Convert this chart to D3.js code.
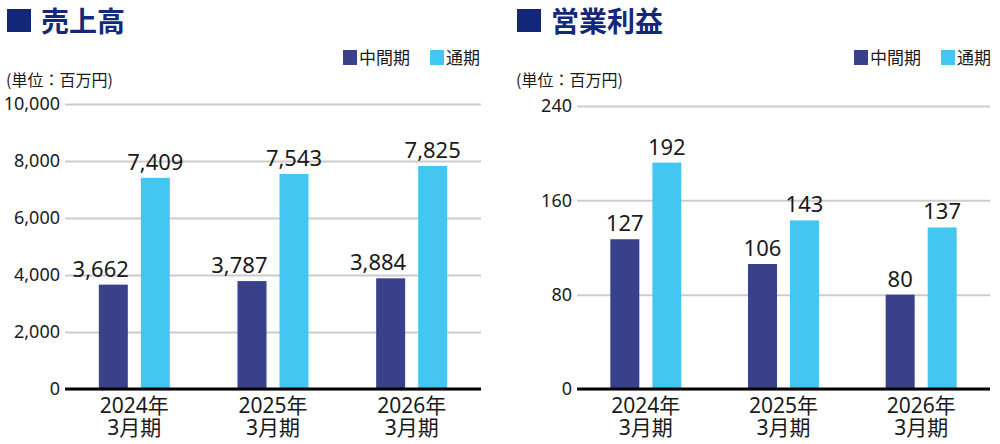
<!DOCTYPE html>
<html lang="ja">
<head>
<meta charset="utf-8">
<script src="https://cdn.jsdelivr.net/npm/d3@7"></script>
<style>
  body { margin: 0; background: #fff; }
  svg text { font-family: "Noto Sans", "Noto Sans CJK JP", sans-serif; fill: #1a1a1a; }
</style>
</head>
<body>
<div id="chart"></div>
<script>
// data
const categories = ['2024年\n3月期', '2025年\n3月期', '2026年\n3月期'];
const seriesNames = ['中間期', '通期'];
const salesInterim = [3662, 3787, 3884];
const salesFull = [7409, 7543, 7825];
const salesTicks = [0, 2000, 4000, 6000, 8000, 10000];
const profitInterim = [127, 106, 80];
const profitFull = [192, 143, 137];
const profitTicks = [0, 80, 160, 240];

const colors = ['#38418a', '#44c6f2'];
const titleColor = '#14287a';

const svg = d3.select('#chart')
  .append('svg')
  .attr('width', 1000)
  .attr('height', 444);

function drawChart(opt) {
  const g = svg.append('g');
  const top = opt.top, bottom = 389;

  // title with square marker
  g.append('rect')
    .attr('x', opt.left0 + 7).attr('y', 9)
    .attr('width', 24).attr('height', 23)
    .attr('fill', titleColor);
  g.append('text')
    .attr('x', opt.left0 + 41).attr('y', 32)
    .style('font-family', '"Noto Sans CJK JP", sans-serif')
    .style('font-size', '28px')
    .style('font-weight', 'bold')
    .style('fill', titleColor)
    .text(opt.title);

  // legend
  const legend = g.append('g');
  seriesNames.forEach((name, i) => {
    const lx = opt.legendX[i];
    legend.append('rect')
      .attr('x', lx).attr('y', 50)
      .attr('width', 14).attr('height', 15)
      .attr('fill', colors[i]);
    legend.append('text')
      .attr('x', lx + 16).attr('y', 64)
      .style('font-family', '"Noto Sans CJK JP", sans-serif')
      .style('font-size', '17px')
      .text(name);
  });

  // unit
  g.append('text')
    .attr('x', opt.left0 + 6).attr('y', 86)
    .style('font-family', '"Noto Sans CJK JP", sans-serif')
    .style('font-size', '16px')
    .text('(単位：百万円)');

  const y = d3.scaleLinear()
    .domain([0, d3.max(opt.ticks)])
    .range([bottom, top]);

  const x0 = d3.scaleBand()
    .domain(categories)
    .range([opt.x0, opt.x1])
    .padding(0);

  const bw = x0.bandwidth();
  const x1 = d3.scaleBand()
    .domain(seriesNames)
    .range([bw / 2 - 35.5, bw / 2 + 35.5])
    .paddingInner(0.31);

  // grid lines + tick labels
  const yAxis = g.append('g')
    .attr('transform', `translate(${opt.x0},0)`)
    .call(d3.axisLeft(y)
      .tickValues(opt.ticks)
      .tickSize(-(opt.x1 - opt.x0))
      .tickPadding(5)
      .tickFormat(d3.format(',')));
  yAxis.select('.domain').remove();
  yAxis.selectAll('.tick line')
    .attr('stroke', '#cccccc')
    .attr('stroke-width', 2);
  yAxis.selectAll('.tick text')
    .style('font-size', '18px')
    .style('fill', '#1a1a1a');

  // bars
  const rows = categories.map((c, i) => ({
    cat: c,
    vals: [opt.interim[i], opt.full[i]]
  }));

  const groups = g.selectAll('.grp')
    .data(rows)
    .enter()
    .append('g')
    .attr('class', 'grp')
    .attr('transform', d => `translate(${x0(d.cat)},0)`);

  groups.selectAll('rect')
    .data(d => d.vals.map((v, i) => ({ name: seriesNames[i], v: v, i: i })))
    .enter()
    .append('rect')
    .attr('x', d => x1(d.name))
    .attr('width', x1.bandwidth())
    .attr('y', d => y(d.v))
    .attr('height', d => bottom - y(d.v))
    .attr('fill', d => colors[d.i]);

  groups.selectAll('.val')
    .data(d => d.vals.map((v, i) => ({ name: seriesNames[i], v: v, i: i })))
    .enter()
    .append('text')
    .attr('class', 'val')
    .attr('x', d => (opt.rightAlignInterim && d.i === 0)
      ? x1(d.name) + x1.bandwidth() + 1
      : x1(d.name) + x1.bandwidth() / 2)
    .attr('y', d => y(d.v) - 8)
    .attr('text-anchor', d => (opt.rightAlignInterim && d.i === 0) ? 'end' : 'middle')
    .style('font-size', '22px')
    .text(d => d3.format(',')(d.v));

  // baseline
  g.append('line')
    .attr('x1', opt.x0).attr('x2', opt.x1)
    .attr('y1', bottom).attr('y2', bottom)
    .attr('stroke', '#000')
    .attr('stroke-width', 3);

  // category labels, two lines each
  categories.forEach(c => {
    c.split('\n').forEach((line, i) => {
      g.append('text')
        .attr('class', 'cat')
        .attr('x', x0(c) + bw / 2)
        .attr('y', 413 + i * 22)
        .attr('text-anchor', 'middle')
        .style('font-size', '21px')
        .text(line);
    });
  });
}

drawChart({
  title: '売上高',
  left0: 0,
  x0: 65, x1: 481,
  top: 104,
  ticks: salesTicks,
  interim: salesInterim,
  full: salesFull,
  legendX: [343, 430],
  rightAlignInterim: true
});

drawChart({
  title: '営業利益',
  left0: 510,
  x0: 577, x1: 990,
  top: 106,
  ticks: profitTicks,
  interim: profitInterim,
  full: profitFull,
  legendX: [854, 941],
  rightAlignInterim: false
});
</script>
</body>
</html>
